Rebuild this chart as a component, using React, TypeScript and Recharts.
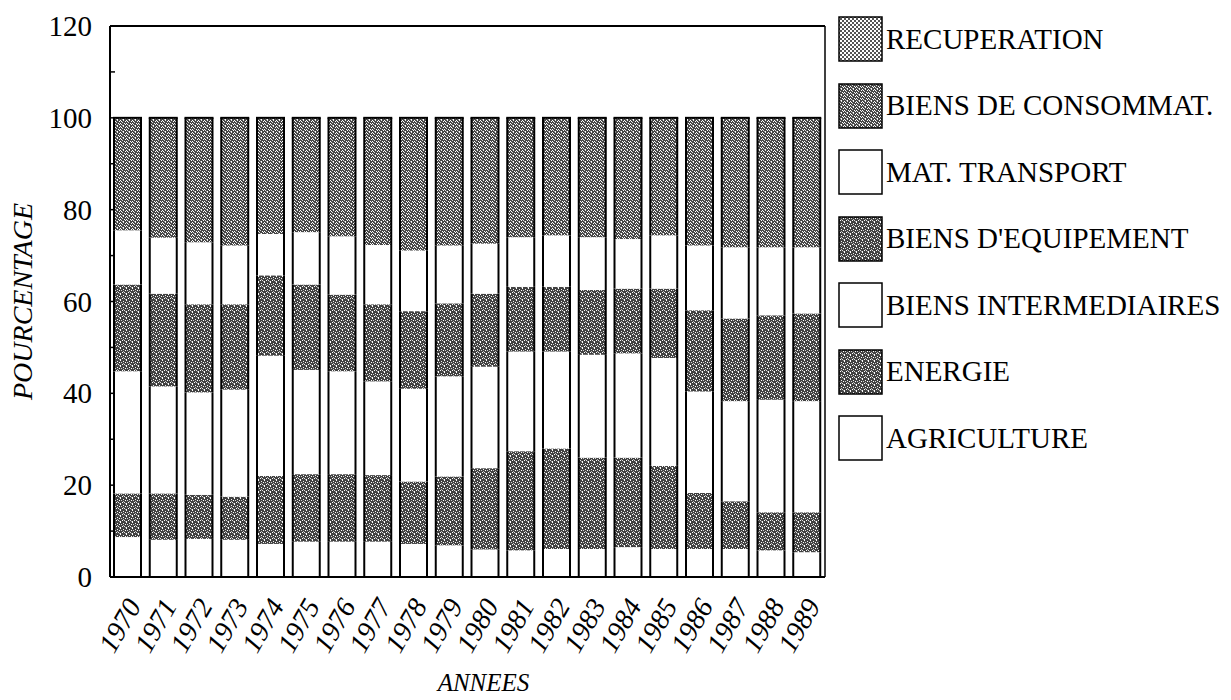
import { BarChart, Bar, XAxis, YAxis, Legend, ReferenceLine } from "recharts";

const YEARS = [
  "1970", "1971", "1972", "1973", "1974", "1975", "1976", "1977", "1978", "1979",
  "1980", "1981", "1982", "1983", "1984", "1985", "1986", "1987", "1988", "1989",
];

// parts in %, bottom to top
const AGRICULTURE = [8.7, 8.1, 8.3, 8.1, 7.2, 7.7, 7.7, 7.7, 7.2, 6.9, 6.0, 5.8, 6.1, 6.1, 6.5, 6.1, 6.1, 6.1, 5.8, 5.4];
const ENERGIE = [9.5, 10.1, 9.6, 9.4, 14.8, 14.7, 14.7, 14.5, 13.6, 15.0, 17.7, 21.6, 21.9, 19.9, 19.5, 18.1, 12.2, 10.4, 8.3, 8.7];
const INTERMEDIAIRES = [26.6, 23.3, 22.3, 23.3, 26.2, 22.7, 22.4, 20.4, 20.2, 21.8, 22.1, 21.7, 21.1, 22.4, 22.7, 23.5, 22.1, 21.8, 24.5, 24.2];
const EQUIPEMENT = [18.9, 20.2, 19.2, 18.6, 17.5, 18.6, 16.7, 16.8, 16.9, 15.9, 15.9, 14.1, 14.1, 14.1, 14.1, 15.1, 17.7, 18.0, 18.4, 19.1];
const TRANSPORT = [11.8, 12.2, 13.5, 12.8, 9.0, 11.4, 12.7, 12.9, 13.2, 12.6, 10.9, 10.8, 11.2, 11.5, 10.8, 11.6, 14.1, 15.5, 14.8, 14.4];
const CONSOMMATION = [24.5, 26.1, 27.1, 27.8, 25.3, 24.9, 25.8, 27.7, 28.9, 27.8, 27.4, 26.0, 25.6, 26.0, 26.4, 25.6, 27.8, 28.2, 28.2, 28.2];
const RECUPERATION = [0, 0, 0, 0, 0, 0, 0, 0, 0, 0, 0, 0, 0, 0, 0, 0, 0, 0, 0, 0];

const Y_TICKS = [0, 10, 20, 30, 40, 50, 60, 70, 80, 90, 100, 110, 120];

const data = YEARS.map((year, i) => ({
  year,
  agri: AGRICULTURE[i],
  energie: ENERGIE[i],
  interm: INTERMEDIAIRES[i],
  equip: EQUIPEMENT[i],
  transport: TRANSPORT[i],
  conso: CONSOMMATION[i],
  recup: RECUPERATION[i],
}));

// legend order = top to bottom as in the scan
const SERIES = [
  { key: "recup", name: "RECUPERATION", fill: "url(#recup)" },
  { key: "conso", name: "BIENS DE CONSOMMAT.", fill: "url(#stippleMid)" },
  { key: "transport", name: "MAT. TRANSPORT", fill: "#ffffff" },
  { key: "equip", name: "BIENS D'EQUIPEMENT", fill: "url(#stippleDark)" },
  { key: "interm", name: "BIENS INTERMEDIAIRES", fill: "#ffffff" },
  { key: "energie", name: "ENERGIE", fill: "url(#stippleDark)" },
  { key: "agri", name: "AGRICULTURE", fill: "#ffffff" },
];

const FONT = "'Liberation Serif', 'DejaVu Serif', serif";

const Segment = (props: any) => {
  const { x, y, width, height, fill, top } = props;
  if (!height || height <= 0) return null;
  return (
    <g>
      <rect x={x} y={y} width={width} height={height} fill={fill} />
      <line x1={x} y1={y} x2={x} y2={y + height} stroke="#000" strokeWidth={2} />
      <line x1={x + width} y1={y} x2={x + width} y2={y + height} stroke="#000" strokeWidth={2} />
      {top && <line x1={x - 1} y1={y} x2={x + width + 1} y2={y} stroke="#000" strokeWidth={2} />}
    </g>
  );
};

const YTick = (props: any) => {
  const { x, y, payload } = props;
  const v = payload.value;
  return (
    <g>
      {v > 0 && v < 120 && <line x1={x} y1={y} x2={x + 5} y2={y} stroke="#000" strokeWidth={1.5} />}
      {v % 20 === 0 && (
        <text x={x - 18} y={y + 10} textAnchor="end" fontFamily={FONT} fontSize={29} fill="#000">
          {v}
        </text>
      )}
    </g>
  );
};

const XTick = (props: any) => {
  const { x, y, payload } = props;
  const tx = x + 14;
  const ty = y + 29;
  return (
    <text
      x={tx}
      y={ty}
      textAnchor="end"
      transform={`rotate(-60, ${tx}, ${ty})`}
      fontFamily={FONT}
      fontStyle="italic"
      fontSize={28}
      fill="#000"
    >
      {payload.value}
    </text>
  );
};

const renderLegend = () => (
  <div style={{ fontFamily: FONT }}>
    {SERIES.map((s) => (
      <div key={s.key} style={{ display: "flex", alignItems: "center", height: 66.5 }}>
        <svg width={46} height={46} style={{ display: "block" }}>
          <rect x={1} y={1} width={43} height={44} fill={s.fill} stroke="#000" strokeWidth={1.5} />
        </svg>
        <span style={{ marginLeft: 2, fontSize: 29, color: "#000", whiteSpace: "nowrap" }}>{s.name}</span>
      </div>
    ))}
  </div>
);

const App = () => {
  return (
    <div style={{ position: "absolute", left: 0, top: 0, width: 1231, height: 700, background: "#fff" }}>
      <BarChart
        width={1231}
        height={700}
        data={data}
        margin={{ top: 26, right: 406, bottom: 33, left: 50 }}
        barSize={27}
      >
        <defs>
          <pattern id="stippleDark" width="6" height="6" patternUnits="userSpaceOnUse">
            <rect width="6" height="6" fill="#424242" />
            <rect x="0" y="0" width="1" height="1" fill="#fff" />
            <rect x="3" y="1" width="1" height="1" fill="#f0f0f0" />
            <rect x="5" y="2" width="1" height="1" fill="#fff" />
            <rect x="1" y="2" width="1" height="1" fill="#d0d0d0" />
            <rect x="2" y="4" width="1" height="1" fill="#fff" />
            <rect x="4" y="4" width="1" height="1" fill="#e0e0e0" />
            <rect x="0" y="5" width="1" height="1" fill="#fff" />
            <rect x="3" y="3" width="1" height="1" fill="#bbb" />
            <rect x="5" y="5" width="1" height="1" fill="#999" />
          </pattern>
          <pattern id="stippleMid" width="6" height="6" patternUnits="userSpaceOnUse">
            <rect width="6" height="6" fill="#474747" />
            <rect x="0" y="0" width="1" height="1" fill="#fff" />
            <rect x="3" y="0" width="1" height="1" fill="#e8e8e8" />
            <rect x="1" y="1" width="1" height="1" fill="#fff" />
            <rect x="5" y="1" width="1" height="1" fill="#fff" />
            <rect x="2" y="2" width="1" height="1" fill="#d8d8d8" />
            <rect x="4" y="3" width="1" height="1" fill="#fff" />
            <rect x="0" y="3" width="1" height="1" fill="#fff" />
            <rect x="1" y="4" width="1" height="1" fill="#e0e0e0" />
            <rect x="3" y="5" width="1" height="1" fill="#fff" />
            <rect x="5" y="4" width="1" height="1" fill="#fff" />
            <rect x="2" y="5" width="1" height="1" fill="#aaa" />
          </pattern>
          <pattern id="recup" width="4" height="4" patternUnits="userSpaceOnUse">
            <rect width="4" height="4" fill="#ffffff" />
            <rect x="0" y="0" width="2" height="2" fill="#555" />
            <rect x="2" y="2" width="2" height="2" fill="#555" />
          </pattern>
        </defs>
        <XAxis
          dataKey="year"
          interval={0}
          tickLine={false}
          tickSize={0}
          tickMargin={0}
          height={90}
          axisLine={{ stroke: "#000", strokeWidth: 2 }}
          tick={<XTick />}
          label={{
            content: (p: any) => {
              const vb = p.viewBox;
              return (
                <text
                  x={vb.x + vb.width / 2 + 16}
                  y={691}
                  textAnchor="middle"
                  fontFamily={FONT}
                  fontStyle="italic"
                  fontSize={25}
                  fill="#000"
                >
                  ANNEES
                </text>
              );
            },
          }}
        />
        <YAxis
          domain={[0, 120]}
          ticks={Y_TICKS}
          interval={0}
          width={60}
          tickLine={false}
          tickSize={0}
          tickMargin={0}
          axisLine={{ stroke: "#000", strokeWidth: 2 }}
          tick={<YTick />}
          label={{
            content: (p: any) => {
              const vb = p.viewBox;
              const cx = 32;
              const cy = vb.y + vb.height / 2;
              return (
                <text
                  x={cx}
                  y={cy}
                  textAnchor="middle"
                  transform={`rotate(-90, ${cx}, ${cy})`}
                  fontFamily={FONT}
                  fontStyle="italic"
                  fontSize={28}
                  fill="#000"
                >
                  POURCENTAGE
                </text>
              );
            },
          }}
        />
        <ReferenceLine y={120} stroke="#000" strokeWidth={2} />
        <ReferenceLine x="1989" position="end" stroke="#000" strokeWidth={1.5} />
        <Legend
          layout="vertical"
          align="center"
          verticalAlign="middle"
          content={renderLegend}
          wrapperStyle={{ left: 838, top: 6, width: 393 }}
        />
        <Bar dataKey="agri" name="AGRICULTURE" stackId="a" fill="#ffffff" isAnimationActive={false} shape={(p: any) => <Segment {...p} />} />
        <Bar dataKey="energie" name="ENERGIE" stackId="a" fill="url(#stippleDark)" isAnimationActive={false} shape={(p: any) => <Segment {...p} />} />
        <Bar dataKey="interm" name="BIENS INTERMEDIAIRES" stackId="a" fill="#ffffff" isAnimationActive={false} shape={(p: any) => <Segment {...p} />} />
        <Bar dataKey="equip" name="BIENS D'EQUIPEMENT" stackId="a" fill="url(#stippleDark)" isAnimationActive={false} shape={(p: any) => <Segment {...p} />} />
        <Bar dataKey="transport" name="MAT. TRANSPORT" stackId="a" fill="#ffffff" isAnimationActive={false} shape={(p: any) => <Segment {...p} />} />
        <Bar dataKey="conso" name="BIENS DE CONSOMMAT." stackId="a" fill="url(#stippleMid)" isAnimationActive={false} shape={(p: any) => <Segment {...p} top />} />
        <Bar dataKey="recup" name="RECUPERATION" stackId="a" fill="url(#recup)" isAnimationActive={false} shape={(p: any) => <Segment {...p} top />} />
      </BarChart>
    </div>
  );
};

export default App;
